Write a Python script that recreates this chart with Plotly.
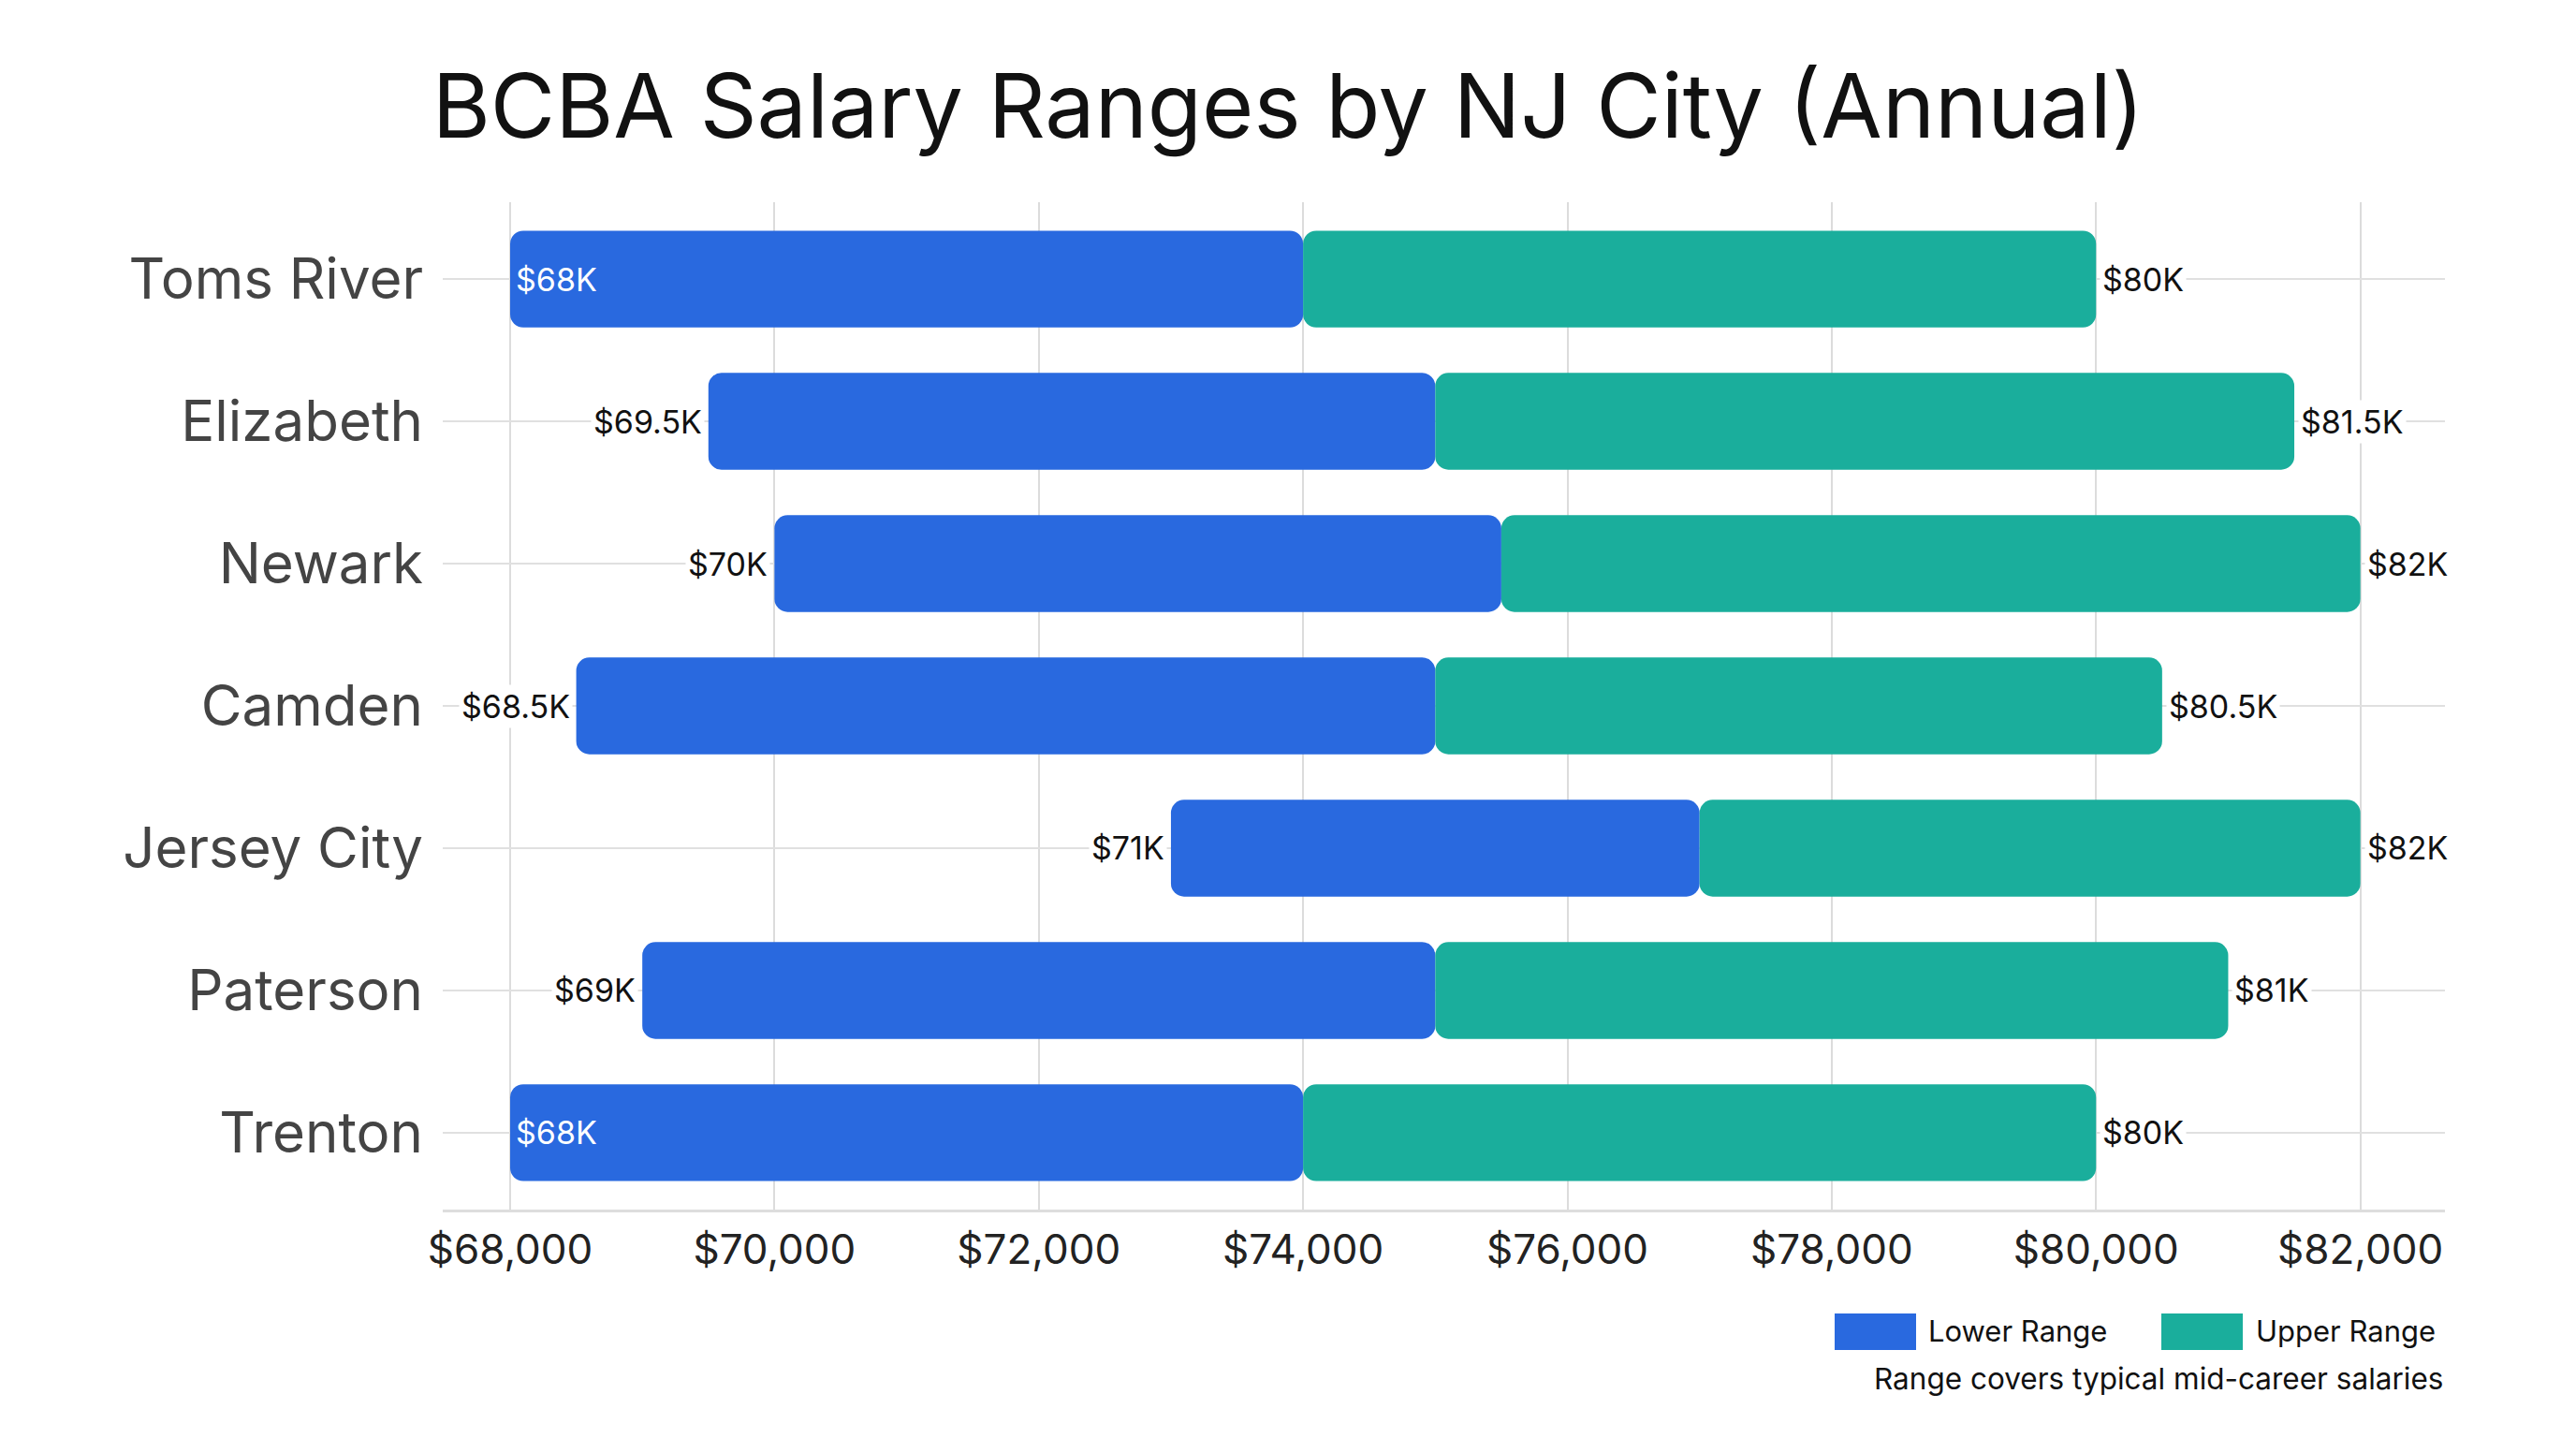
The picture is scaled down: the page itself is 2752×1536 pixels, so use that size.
import plotly.graph_objects as go

cities = ["Toms River", "Elizabeth", "Newark", "Camden", "Jersey City", "Paterson", "Trenton"]
low = [68000, 69500, 70000, 68500, 73000, 69000, 68000]
mid = [74000, 75000, 75500, 75000, 77000, 75000, 74000]
high = [80000, 81500, 82000, 80500, 82000, 81000, 80000]
low_labels = ["$68K", "$69.5K", "$70K", "$68.5K", "$71K", "$69K", "$68K"]
high_labels = ["$80K", "$81.5K", "$82K", "$80.5K", "$82K", "$81K", "$80K"]
tick_vals = [68000, 70000, 72000, 74000, 76000, 78000, 80000, 82000]
tick_text = ["$68,000", "$70,000", "$72,000", "$74,000", "$76,000", "$78,000", "$80,000", "$82,000"]

BLUE = "#2969DF"
TEAL = "#1AAE9C"
FONT = "Inter"

W, H = 2752, 1536
ML, MR, MT, MB = 473, 140, 216, 244

fig = go.Figure()
fig.add_trace(go.Bar(
    y=cities, x=[m - l for l, m in zip(low, mid)], base=low, orientation="h",
    marker=dict(color=BLUE, cornerradius=14, line=dict(width=0)),
    name="Lower Range", showlegend=False, hoverinfo="skip"))
fig.add_trace(go.Bar(
    y=cities, x=[h - m for m, h in zip(mid, high)], base=mid, orientation="h",
    marker=dict(color=TEAL, cornerradius=14, line=dict(width=0)),
    name="Upper Range", showlegend=False, hoverinfo="skip"))

annotations = []
for c, l, ll, h, hl in zip(cities, low, low_labels, high, high_labels):
    if l <= tick_vals[0]:
        annotations.append(dict(x=l, y=c, xref="x", yref="y", text=ll, showarrow=False,
                                xanchor="left", xshift=4,
                                font=dict(family=FONT, size=34, color="white")))
    else:
        annotations.append(dict(x=l, y=c, xref="x", yref="y", text=ll, showarrow=False,
                                xanchor="right", xshift=-4, bgcolor="white", borderpad=2,
                                font=dict(family=FONT, size=34, color="#111111")))
    annotations.append(dict(x=h, y=c, xref="x", yref="y", text=hl, showarrow=False,
                            xanchor="left", xshift=4, bgcolor="white", borderpad=2,
                            font=dict(family=FONT, size=34, color="#111111")))

# custom legend (pixel -> paper)
pw = W - ML - MR
ph = H - MT - MB
def px(x):
    return (x - ML) / pw
def py(y):
    return (H - MB - y) / ph

shapes = []
legend_items = [("Lower Range", BLUE, 1960, 2047, 2058), ("Upper Range", TEAL, 2309, 2396, 2408)]
for name, col, x0, x1, tx in legend_items:
    shapes.append(dict(type="rect", xref="paper", yref="paper",
                       x0=px(x0), x1=px(x1), y0=py(1442), y1=py(1403),
                       fillcolor=col, line=dict(width=0), layer="above"))
    annotations.append(dict(x=px(tx), y=py(1422), xref="paper", yref="paper", text=name,
                            showarrow=False, xanchor="left", yanchor="middle",
                            font=dict(family=FONT, size=31, color="#111111")))
annotations.append(dict(x=px(2612), y=py(1472), xref="paper", yref="paper",
                        text="Range covers typical mid-career salaries",
                        showarrow=False, xanchor="right", yanchor="middle",
                        font=dict(family=FONT, size=31.5, color="#111111")))

fig.update_layout(
    width=W, height=H,
    margin=dict(l=ML, r=MR, t=MT, b=MB, pad=0),
    paper_bgcolor="white", plot_bgcolor="white",
    barmode="overlay", bargap=0.32,
    title=dict(text="BCBA Salary Ranges by NJ City (Annual)", x=0.5, xanchor="center",
               y=1 - 114 / H, yanchor="middle", yref="container",
               font=dict(family=FONT, size=95, color="#111111")),
    xaxis=dict(range=[67490, 82640], tickvals=tick_vals, ticktext=tick_text,
               showgrid=True, gridcolor="#dcdcdc", gridwidth=1.5,
               showline=True, linecolor="#dddddd", linewidth=3,
               zeroline=False, ticks="", ticklabelstandoff=2,
               tickfont=dict(family=FONT, size=44, color="#222222")),
    yaxis=dict(type="category", categoryorder="array", categoryarray=cities,
               range=[6.54, -0.54], showgrid=True, gridcolor="#e0e0e0", gridwidth=2,
               showline=False, zeroline=False, ticks="", ticklabelstandoff=20,
               tickfont=dict(family=FONT, size=60, color="#444444")),
    annotations=annotations, shapes=shapes,
)

fig.write_html("out.html")
